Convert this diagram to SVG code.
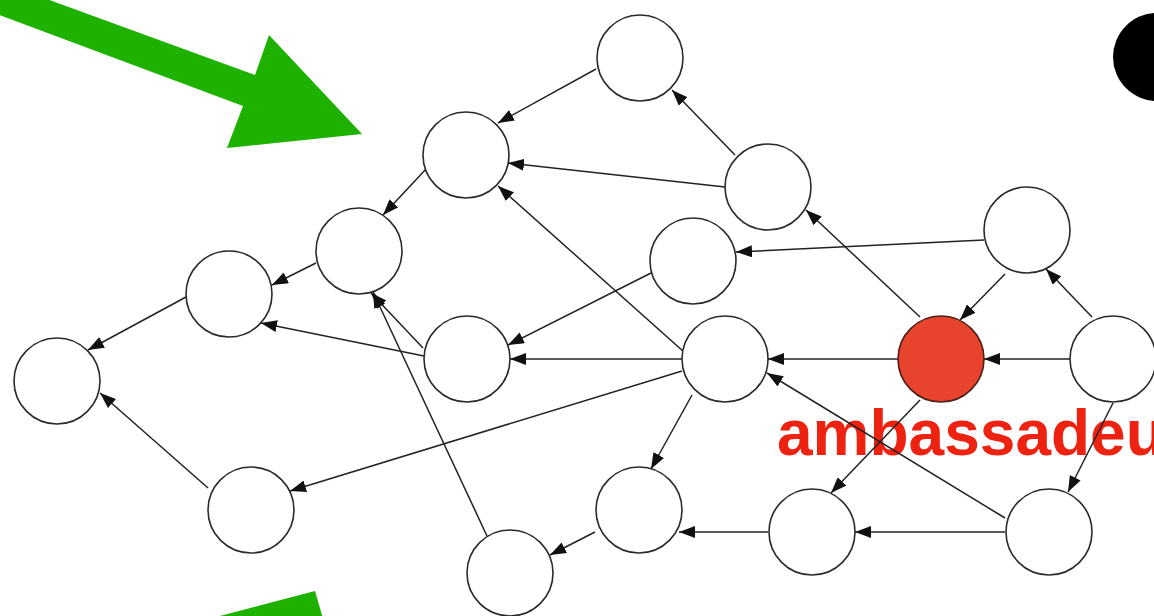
<svg xmlns="http://www.w3.org/2000/svg" width="1154" height="616" viewBox="0 0 1154 616">
  <defs>
    <marker id="arrow" markerUnits="userSpaceOnUse" markerWidth="16" markerHeight="12" refX="16" refY="6" orient="auto">
      <path d="M0,0 L16,6 L0,12 z" fill="#111"/>
    </marker>
    <style>
      .node { fill: #fff; stroke: #2a2a2a; stroke-width: 1.6; }
      .amb { fill: #e8432c; stroke: #4a2018; stroke-width: 1.6; }
      .edges line { stroke: #222; stroke-width: 1.5; marker-end: url(#arrow); }
      .big-arrow { fill: #1eb100; }
      .label { font-family: "Liberation Sans", Arial, Helvetica, sans-serif; font-weight: bold; font-size: 64px; fill: #ee2211; }
    </style>
  </defs>
  <rect width="1154" height="616" fill="#fff"/>

  <!-- green pointer arrows -->
  <polygon class="big-arrow" points="-30,-29 255,75 269,35 362,134 227,148 243,106 -30,4"/>
  <polygon class="big-arrow" points="197,622 315,591 324,622"/>

  <!-- black disc at top right -->
  <circle cx="1157" cy="57" r="44" fill="#000"/>

  <!-- label under the highlighted node -->
  <text class="label" x="777" y="455">ambassadeu</text>

  <g id="connectors" class="edges">
    <line x1="596" y1="69" x2="498" y2="123"/>
    <line x1="735" y1="155" x2="672" y2="90"/>
    <line x1="725" y1="187" x2="508" y2="163"/>
    <line x1="684" y1="352" x2="498" y2="186"/>
    <line x1="427" y1="168" x2="383" y2="215"/>
    <line x1="316" y1="263" x2="272" y2="285"/>
    <line x1="186" y1="297" x2="88" y2="350"/>
    <line x1="208" y1="488" x2="100" y2="393"/>
    <line x1="424" y1="356" x2="261" y2="323"/>
    <line x1="423" y1="348" x2="371" y2="293"/>
    <line x1="487" y1="536" x2="373" y2="292"/>
    <line x1="651" y1="273" x2="508" y2="345"/>
    <line x1="682" y1="359" x2="510" y2="359"/>
    <line x1="682" y1="371" x2="290" y2="491"/>
    <line x1="692" y1="395" x2="651" y2="469"/>
    <line x1="595" y1="532" x2="550" y2="555"/>
    <line x1="768" y1="532" x2="679" y2="532"/>
    <line x1="1005" y1="532" x2="855" y2="532"/>
    <line x1="898" y1="359" x2="768" y2="359"/>
    <line x1="1070" y1="359" x2="984" y2="359"/>
    <line x1="1005" y1="274" x2="960" y2="320"/>
    <line x1="1092" y1="317" x2="1046" y2="269"/>
    <line x1="1113" y1="403" x2="1068" y2="492"/>
    <line x1="920" y1="317" x2="806" y2="210"/>
    <line x1="984" y1="240" x2="736" y2="252"/>
    <line x1="1005" y1="518" x2="767" y2="373"/>
    <line x1="920" y1="400" x2="831" y2="493"/>
  </g>

  <g id="n1"><circle class="node" cx="640" cy="58" r="43"/></g>
  <g id="n2"><circle class="node" cx="466" cy="155" r="43"/></g>
  <g id="n3"><circle class="node" cx="768" cy="187" r="43"/></g>
  <g id="n4"><circle class="node" cx="359" cy="251" r="43"/></g>
  <g id="n5"><circle class="node" cx="1027" cy="230" r="43"/></g>
  <g id="n6"><circle class="node" cx="693" cy="261" r="43"/></g>
  <g id="n7"><circle class="node" cx="229" cy="294" r="43"/></g>
  <g id="n8"><circle class="node" cx="467" cy="359" r="43"/></g>
  <g id="n9"><circle class="node" cx="725" cy="359" r="43"/></g>
  <g id="ambassadeur"><circle class="amb" cx="941" cy="359" r="43"/></g>
  <g id="n11"><circle class="node" cx="1113" cy="359" r="43"/></g>
  <g id="n12"><circle class="node" cx="57" cy="381" r="43"/></g>
  <g id="n13"><circle class="node" cx="251" cy="510" r="43"/></g>
  <g id="n14"><circle class="node" cx="639" cy="510" r="43"/></g>
  <g id="n15"><circle class="node" cx="812" cy="532" r="43"/></g>
  <g id="n16"><circle class="node" cx="1049" cy="532" r="43"/></g>
  <g id="n17"><circle class="node" cx="510" cy="573" r="43"/></g>
</svg>
